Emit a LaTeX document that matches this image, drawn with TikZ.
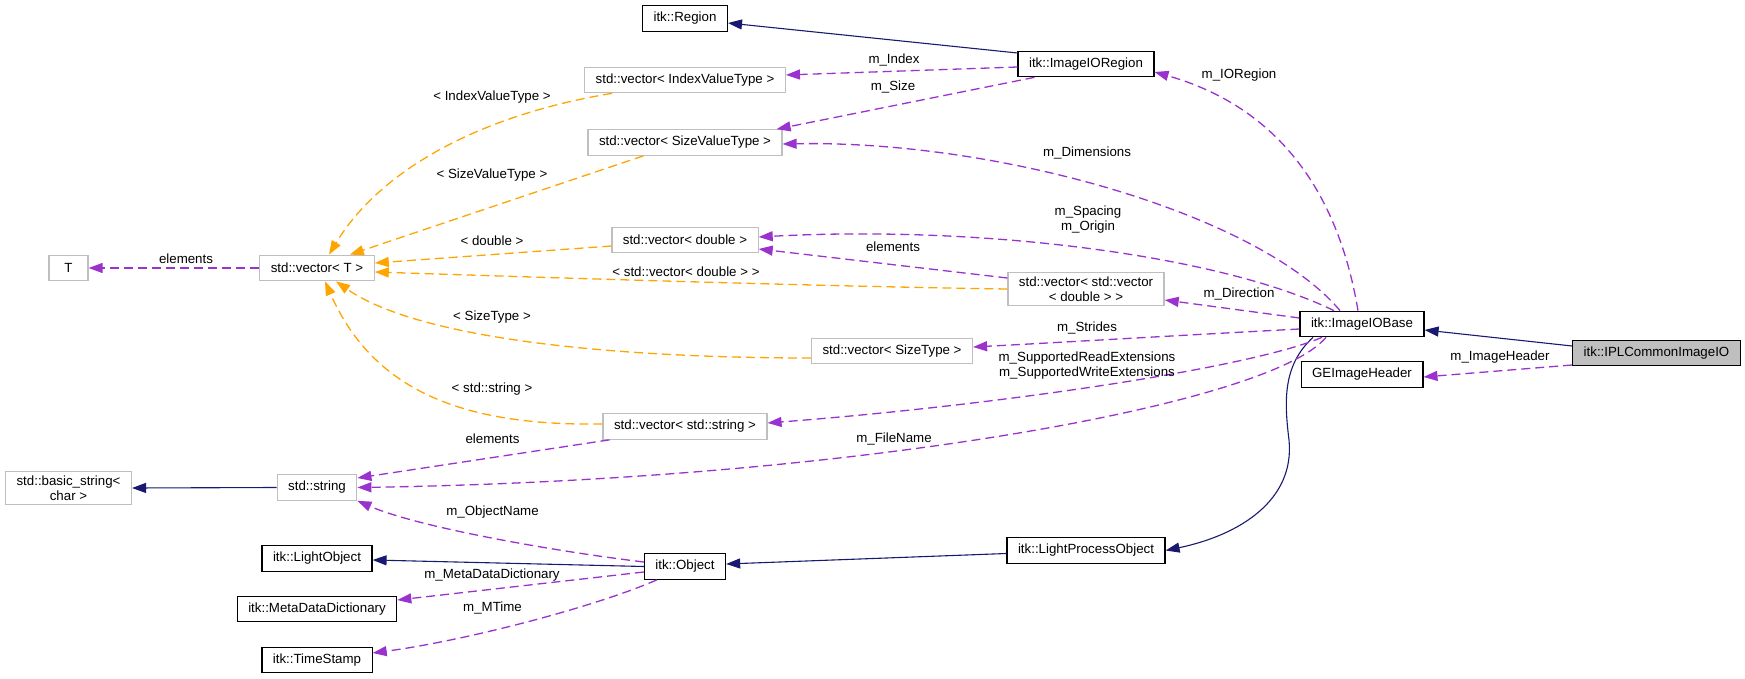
\documentclass[tikz,border=0pt]{standalone}
\usepackage{fontspec}
\setmainfont{Liberation Sans}
\usetikzlibrary{arrows.meta}
\definecolor{nutzfarbe}{HTML}{9A32CD}
\definecolor{vorlfarbe}{HTML}{FFA500}
\definecolor{erbfarbe}{HTML}{191970}
\definecolor{randgrau}{HTML}{BFBFBF}
\begin{document}
\begin{tikzpicture}[x=1pt, y=-1pt,
				>={Triangle[length=14pt,width=10pt]},   %Pfeilspitzen
				font=\fontsize{13.3}{15}\selectfont,
				klasse/.style={draw, line width=1.2pt, minimum height=25.5pt, minimum width=39pt, inner xsep=11pt, inner ysep=4pt, align=center},
				grau/.style={klasse, draw=randgrau},
				lbl/.style={inner sep=0pt, align=center},
				nutzt/.style={->, draw=nutzfarbe, line width=1.3pt, dash pattern=on 9pt off 5pt},
				templ/.style={->, draw=vorlfarbe, line width=1.3pt, dash pattern=on 9pt off 5pt},
				erbt/.style={->, draw=erbfarbe, line width=1.1pt}]
				\useasboundingbox (0,0) rectangle (1745,679);
				% Klassen links
				\node[grau] (T) at (68.5,268) {T};
				\node[grau] (vT) at (317,268) {std::vector< T >};
				\node[grau] (bstr) at (68.5,488) {std::basic\_string<\\char >};
				\node[grau] (str) at (317,487.5) {std::string};
				\foreach \n/\y/\t in {lobj/558.5/LightObject, mdd/609/MetaDataDictionary, ts/660/TimeStamp}
					\node[klasse] (\n) at (317,\y) {itk::\t};
				% Klassen Mitte
				\node[klasse] (region) at (685,18.5) {itk::Region};
				\node[grau] (vidx) at (685,80) {std::vector< IndexValueType >};
				\node[grau] (vsvt) at (685,142.5) {std::vector< SizeValueType >};
				\node[grau] (vdbl) at (685,240) {std::vector< double >};
				\node[grau] (vstr) at (685,426.5) {std::vector< std::string >};
				\node[klasse] (obj) at (685,566.5) {itk::Object};
				\node[grau] (vst) at (892,351) {std::vector< SizeType >};
				\node[klasse] (iorg) at (1086,64) {itk::ImageIORegion};
				\node[grau] (vvd) at (1086,289) {std::vector< std::vector\\< double > >};
				\node[klasse] (lpo) at (1086,550.5) {itk::LightProcessObject};
				% Klassen rechts
				\node[klasse] (iob) at (1362,324) {itk::ImageIOBase};
				\node[klasse] (geh) at (1362,374.5) {GEImageHeader};
				\node[klasse, fill=randgrau] (ipl) at (1656.5,353) {itk::IPLCommonImageIO};
				% Vorlagen
				\draw[templ] ([xshift=28pt]vidx.south west) .. controls (480,115) and (380,170) .. ([xshift=12pt]vT.north);
				\draw[templ] ([xshift=56pt]vsvt.south west) -- ([xshift=-25pt]vT.north east);
				\draw[templ] ([yshift=-6pt]vdbl.west) -- ([yshift=5pt]vT.east);
				\draw[templ] (vvd.west) .. controls (800,286) and (500,276) .. ([yshift=-4pt]vT.east);
				\draw[templ] ([yshift=-7pt]vst.west) .. controls (620,358) and (420,340) .. ([xshift=19pt]vT.south);
				\draw[templ] ([yshift=2.5pt]vstr.west) .. controls (470,426) and (375,395) .. ([xshift=8pt]vT.south);
				\node[lbl] (lidxT) at (492,97) {< IndexValueType >};
				\node[lbl] (lsvtT) at (492,175) {< SizeValueType >};
				\node[lbl] (ldblT) at (492,241) {< double >};
				\node[lbl] (lvvdT) at (686,272) {< std::vector< double > >};
				\node[lbl] (lstT) at (492,317) {< SizeType >};
				\node[lbl] (lstrT) at (492,389) {< std::string >};
				% Vererbung
				\draw[erbt] (str.west) -- (bstr.east);
				\draw[erbt] ([yshift=11pt]iorg.west) -- ([yshift=-4.5pt]region.east);
				\draw[erbt] (obj.west) -- ([yshift=-1.5pt]lobj.east);
				\draw[erbt] ([yshift=-3pt]lpo.west) -- ([yshift=2.5pt]obj.east);
				\draw[erbt] ([xshift=-49pt]iob.south) .. controls (1283,365) and (1284,400) .. (1289,440) .. controls (1295,500) and (1240,535) .. (lpo.east);
				\draw[erbt] ([yshift=7pt]ipl.west) -- ([yshift=-6pt]iob.east);
				% Benutzung
				\draw[nutzt] (vT) -- (T);
				\node[lbl] (lelT) at (186,259) {elements};
				\draw[nutzt] ([yshift=-3pt]iorg.west) -- ([yshift=5pt]vidx.east);
				\node[lbl] (lindex) at (894,60) {m\_Index};
				\draw[nutzt] ([xshift=17pt]iorg.south west) -- ([xshift=-6pt]vsvt.north east);
				\node[lbl] (lsize) at (893,87) {m\_Size};
				\draw[nutzt] ([xshift=-4pt]iob.north) .. controls (1342,215) and (1295,112) .. ([yshift=-8pt]iorg.east);
				\node[lbl] (lioreg) at (1239,75) {m\_IORegion};
				\draw[nutzt] ([xshift=-22pt]iob.north) .. controls (1260,215) and (1000,140) .. ([yshift=-1.5pt]vsvt.east);
				\node[lbl] (ldim) at (1087,153) {m\_Dimensions};
				\draw[nutzt] ([xshift=-28pt]iob.north) .. controls (1220,255) and (980,225) .. ([yshift=3pt]vdbl.east);
				\node[lbl] (lspac) at (1088,219.5) {m\_Spacing\\m\_Origin};
				\draw[nutzt] ([yshift=11pt]vvd.west) -- ([yshift=-9pt]vdbl.east);
				\node[lbl] (lelvd) at (893,247) {elements};
				\draw[nutzt] ([yshift=6pt]iob.west) -- ([yshift=-11pt]vvd.east);
				\node[lbl] (ldir) at (1239,294) {m\_Direction};
				\draw[nutzt] ([yshift=-5pt]iob.west) .. controls (1150,337) and (1050,343) .. ([yshift=4pt]vst.east);
				\node[lbl] (lstrd) at (1087,328) {m\_Strides};
				\draw[nutzt] ([xshift=-40pt]iob.south) .. controls (1250,368) and (1000,405) .. ([yshift=3.5pt]vstr.east);
				\node[lbl] (lext) at (1087,366) {m\_SupportedReadExtensions\\m\_SupportedWriteExtensions};
				\draw[nutzt] ([xshift=-36pt]iob.south) .. controls (1270,405) and (850,480) .. (str.east);
				\node[lbl] (lfile) at (894,439) {m\_FileName};
				\draw[nutzt] ([xshift=7pt]vstr.south west) -- ([yshift=9.5pt]str.east);
				\node[lbl] (lelstr) at (492.5,439) {elements};
				\draw[nutzt] ([yshift=4.5pt]obj.west) .. controls (560,552) and (420,528) .. (str.south east);
				\node[lbl] (lobjn) at (492.5,512) {m\_ObjectName};
				\draw[nutzt] ([yshift=-5.5pt]obj.west) -- ([yshift=9pt]mdd.east);
				\node[lbl] (lmdd) at (492,575) {m\_MetaDataDictionary};
				\draw[nutzt] ([xshift=13pt]obj.south west) .. controls (600,605) and (470,640) .. ([yshift=7pt]ts.east);
				\node[lbl] (lmtime) at (492.5,608) {m\_MTime};
				\draw[nutzt] ([yshift=-12pt]ipl.west) -- ([yshift=-2.5pt]geh.east);
				\node[lbl] (lhead) at (1500,357) {m\_ImageHeader};
			\end{tikzpicture}
\end{document}
